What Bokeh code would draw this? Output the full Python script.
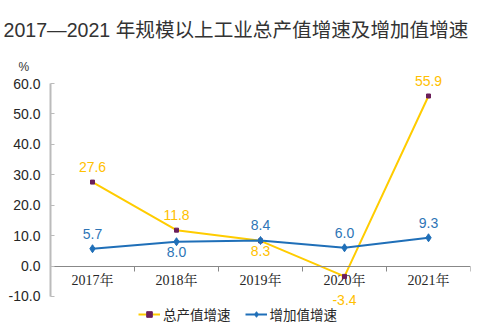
from bokeh.plotting import figure
from bokeh.models import (FixedTicker, Range1d, Title, Legend, LegendItem,
                          NumeralTickFormatter, ColumnDataSource)
from bokeh.core.properties import value
from bokeh.embed import file_html
from bokeh.resources import INLINE

years = ["2017年", "2018年", "2019年", "2020年", "2021年"]
output_growth = [27.6, 11.8, 8.3, -3.4, 55.9]      # 总产值增速
added_growth = [5.7, 8.0, 8.4, 6.0, 9.3]          # 增加值增速
output_label_side = ["above", "above", "below", "far_below", "above"]
added_label_side = ["above", "below", "above", "above", "above"]
y_ticks = [-10, 0, 10, 20, 30, 40, 50, 60]

YELLOW = "#FFCC00"
YELLOW_TXT = "#FFC000"
BLUE = "#1F6FB8"
BLUE_TXT = "#2E75B6"
SANS = "Liberation Sans, Noto Sans CJK SC"
LABEL_OFFSET = {"above": -15, "below": 10, "far_below": 24}

xs = [i + 0.5 for i in range(len(years))]

# frame runs a little above the top tick and down to the bottom of the
# window; the y axis itself is bounded to the tick range
PX_PER_UNIT = 3.03
TOP_TICK_PX = 84
FRAME_TOP_PX = 76
y_hi = y_ticks[-1] + (TOP_TICK_PX - FRAME_TOP_PX) / PX_PER_UNIT
y_lo = y_ticks[-1] - (330 - TOP_TICK_PX) / PX_PER_UNIT

p = figure(width=477, height=330, x_range=Range1d(0, len(years)),
           y_range=Range1d(y_lo, y_hi), x_axis_location="above",
           output_backend="svg", toolbar_location=None,
           min_border_left=50, min_border_right=7, min_border_top=0,
           min_border_bottom=0, background_fill_color="white",
           border_fill_color="white", outline_line_color=None)

p.title.text = "2017—2021 年规模以上工业总产值增速及增加值增速"
p.title.text_font = SANS
p.title.text_font_size = "19.6px"
p.title.text_font_style = "normal"
p.title.text_color = "#333333"
p.title.align = "left"
p.title.offset = -47
p.title.standoff = 32

pct = Title(text="%", align="left", offset=-32, text_font="Liberation Sans",
            text_font_size="12px", text_font_style="normal",
            text_color="#333333", standoff=3)
p.add_layout(pct, "above")

p.grid.visible = False

# x axis line drawn at y = 0, ticks between categories pointing down
xa = p.xaxis[0]
xa.fixed_location = 0
xa.ticker = FixedTicker(ticks=[], minor_ticks=[1, 2, 3, 4, 5])
xa.major_tick_line_color = None
xa.minor_tick_out = 0
xa.minor_tick_in = 5
xa.minor_tick_line_color = "#888888"
xa.axis_line_color = "#888888"

ya = p.yaxis[0]
ya.bounds = (y_ticks[0], y_ticks[-1])
ya.ticker = FixedTicker(ticks=y_ticks)
ya.formatter = NumeralTickFormatter(format="0.0")
ya.axis_line_color = "#BBBBBB"
ya.axis_line_width = 2
ya.major_tick_in = 4
ya.major_tick_out = 0
ya.major_tick_line_color = "#BBBBBB"
ya.minor_tick_line_color = None
ya.major_label_text_font = "Liberation Sans"
ya.major_label_text_font_size = "14px"
ya.major_label_text_color = "#262626"
ya.major_label_standoff = 10

# category labels under the zero line
cat_src = ColumnDataSource(dict(x=xs, y=[0] * len(xs), t=years))
p.text(x="x", y="y", text="t", source=cat_src, y_offset=14,
       text_align="center", text_baseline="middle",
       text_font=value("Liberation Serif, Noto Serif CJK SC, Noto Sans CJK SC"),
       text_font_size="14px", text_color="#262626")

r1 = p.line(xs, output_growth, line_color=YELLOW, line_width=2)
m1 = p.scatter(xs, output_growth, marker="square", size=4,
               fill_color="#6B1F5A", line_color="#6B1F5A")
r2 = p.line(xs, added_growth, line_color=BLUE, line_width=2)
m2 = p.scatter(xs, added_growth, marker="diamond", size=8,
               fill_color=BLUE, line_color=BLUE)

def offs(sides):
    return [LABEL_OFFSET[s] for s in sides]

src1 = ColumnDataSource(dict(x=xs, y=output_growth,
                             t=[f"{v:.1f}" for v in output_growth],
                             o=offs(output_label_side)))
src2 = ColumnDataSource(dict(x=xs, y=added_growth,
                             t=[f"{v:.1f}" for v in added_growth],
                             o=offs(added_label_side)))
for src, col in ((src1, YELLOW_TXT), (src2, BLUE_TXT)):
    p.text(x="x", y="y", text="t", y_offset="o", source=src,
           text_align="center", text_baseline="middle",
           text_font=value("Liberation Sans"), text_font_size="14px",
           text_color=col)

legend = Legend(items=[LegendItem(label="总产值增速", renderers=[r1, m1]),
                       LegendItem(label="增加值增速", renderers=[r2, m2])],
                orientation="horizontal", location=(88, 6),
                label_text_font=SANS, label_text_font_size="13.5px",
                label_text_color="#262626", glyph_width=22, glyph_height=14,
                spacing=14, padding=2, margin=0, border_line_color=None,
                background_fill_alpha=0, label_standoff=3)
p.add_layout(legend, "center")

open("out.html", "w").write(file_html(p, INLINE))
